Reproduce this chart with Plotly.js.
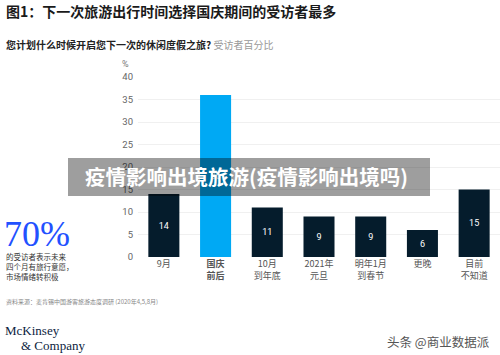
<!DOCTYPE html>
<html><head><meta charset="utf-8">
<script src="https://cdn.plot.ly/plotly-3.0.1.min.js"></script>
<style>html,body{margin:0;padding:0;background:#fff}#chart{width:500px;height:355px}</style>
</head><body><div id="chart"></div>
<script>
const categories = ["9月", "<b>国庆</b><br><b>前后</b>", "10月<br>到年底", "2021年<br>元旦", "明年1月<br>到春节", "更晚", "目前<br>不知道"];
const values = [14, 36, 11, 9, 9, 6, 15];
const barColors = ["#051c2c", "#00a9f4", "#051c2c", "#051c2c", "#051c2c", "#051c2c", "#051c2c"];
const yTicks = [0, 5, 10, 15, 20, 25, 30, 35, 40];

const W = 500, H = 355, L = 138, R = 0, T = 77, B = 98;
const pw = W - L - R, ph = H - T - B;
const fx = px => (px - L) / pw;
const fy = py => (H - B - py) / ph;
const CJK = '"Noto Sans CJK SC", sans-serif';
const SERIF = '"Liberation Serif", "DejaVu Serif", serif';

const trace = {
  type: 'bar',
  x: categories,
  y: values,
  marker: {color: barColors, line: {width: 0}},
  text: values.map(String),
  textposition: 'inside',
  insidetextanchor: 'middle',
  textfont: {color: '#ffffff', size: 9, family: 'Roboto, sans-serif'},
  hoverinfo: 'none'
};

function ann(text, x, y, opts) {
  return Object.assign({text: text, x: fx(x), y: fy(y), xref: 'paper', yref: 'paper',
    showarrow: false, xanchor: 'left', yanchor: 'middle'}, opts || {});
}

const annotations = [
  ann('<b>图1：下一次旅游出行时间选择国庆期间的受访者最多</b>', 4, 11, {font: {family: CJK, size: 14, color: '#1a1a1a'}}),
  ann('<b>您计划什么时候开启您下一次的休闲度假之旅?</b> <span style="color:#999">受访者百分比</span>', 4, 44, {font: {family: CJK, size: 10, color: '#222'}}),
  ann('%', 120, 64, {font: {family: 'Roboto, sans-serif', size: 9, color: '#777'}}),
  ann('70%', 2, 234, {font: {family: SERIF, size: 36, color: '#2251ff'}}),
  ann('的受访者表示未来<br>四个月有旅行意愿，<br>市场情绪转积极', 4, 266, {align: 'left', font: {family: CJK, size: 7.5, color: '#333'}}),
  ann('资料来源：麦肯锡中国游客旅游态度调研 (2020年4,5,8月)', 4, 301, {font: {family: CJK, size: 6, color: '#888'}}),
  ann('McKinsey', 3, 330, {font: {family: SERIF, size: 13, color: '#0c2340'}}),
  ann('&amp; Company', 19, 345, {font: {family: SERIF, size: 13, color: '#0c2340'}}),
  ann('头条 @商业数据派', 385, 341, {font: {family: CJK, size: 12.5, color: '#555'}}),
  ann('<b>疫情影响出境旅游(疫情影响出境吗)</b>', 246, 176, {xanchor: 'center', font: {family: CJK, size: 20.5, color: '#ffffff'}})
];

const shapes = [{
  type: 'rect', xref: 'paper', yref: 'paper', layer: 'above',
  x0: fx(68), x1: fx(430), y0: fy(196), y1: fy(158),
  fillcolor: 'rgba(0,0,0,0.38)', line: {width: 0}
}];

const layout = {
  width: W, height: H,
  margin: {l: L, r: R, t: T, b: B, pad: 0},
  paper_bgcolor: '#ffffff', plot_bgcolor: '#ffffff',
  showlegend: false,
  bargap: 0.4,
  font: {family: CJK},
  xaxis: {
    type: 'category', tickfont: {family: CJK, size: 9, color: '#555'},
    showgrid: false, zeroline: false, showline: false, ticks: '', ticklen: 0
  },
  yaxis: {
    range: [0, 40], tickvals: yTicks, ticktext: yTicks.map(String),
    tickfont: {family: 'Roboto, sans-serif', size: 9.5, color: '#666'},
    showgrid: true, gridcolor: '#f0f0f0', gridwidth: 1, zeroline: false,
    showline: false, ticks: '', ticklabelstandoff: 4
  },
  annotations: annotations,
  shapes: shapes
};

Plotly.newPlot('chart', [trace], layout, {displayModeBar: false, staticPlot: true});
</script></body></html>
